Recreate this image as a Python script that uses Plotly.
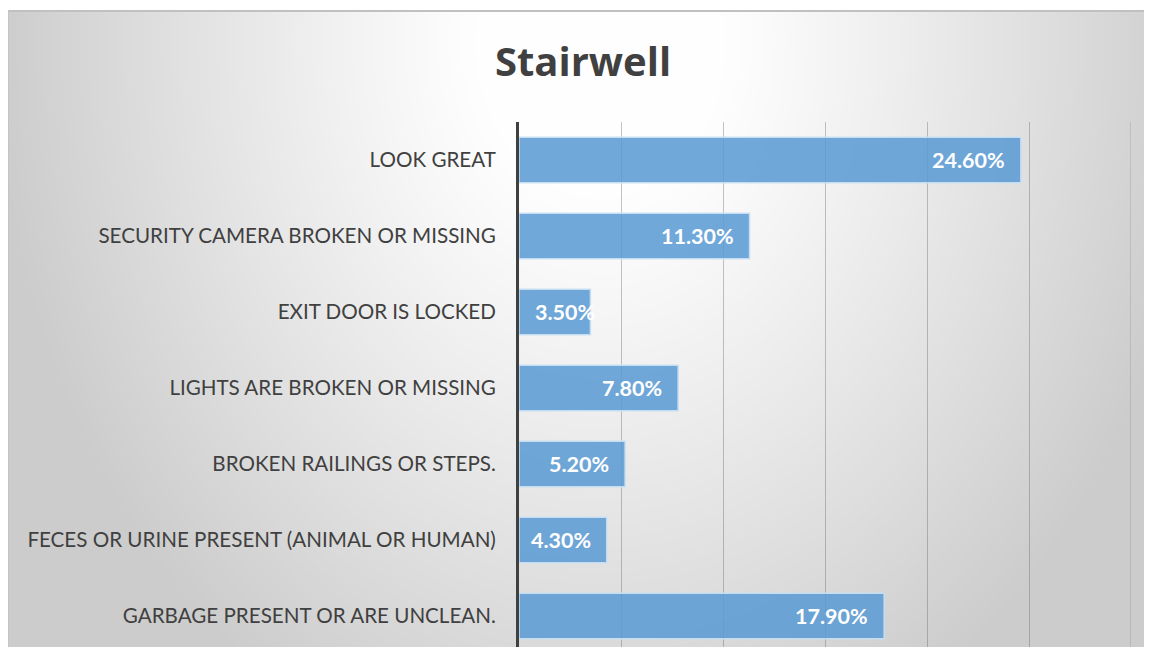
import base64
import struct
import zlib

import numpy as np
import plotly.graph_objects as go

# ---------------- data ----------------
categories = [
    "LOOK GREAT",
    "SECURITY CAMERA BROKEN OR MISSING",
    "EXIT DOOR IS LOCKED",
    "LIGHTS ARE BROKEN OR MISSING",
    "BROKEN RAILINGS OR STEPS.",
    "FECES OR URINE PRESENT (ANIMAL OR HUMAN)",
    "GARBAGE PRESENT OR ARE UNCLEAN.",
]
values = [24.6, 11.3, 3.5, 7.8, 5.2, 4.3, 17.9]
value_labels = ["24.60%", "11.30%", "3.50%", "7.80%", "5.20%", "4.30%", "17.90%"]
title_text = "Stairwell"

# ---------------- layout geometry (figure px; page has 8px body margin) ----------------
OFF = 8
W, H = 1152 - OFF, 647 - OFF
PL, PR, PT, PB = 519 - OFF, 1131 - OFF, 122 - OFF, H  # plot area in figure pixels
plot_w, plot_h = PR - PL, PB - PT
XMAX = 30
px_per_unit = plot_w / XMAX
CAT_PX = 76.0
GRID_COLOR = "rgba(100,100,100,0.38)"


# ---------------- background (radial gradient chart area) ----------------
def make_png_gray(arr):
    h, w = arr.shape
    raw = b"".join(b"\x00" + arr[i].tobytes() for i in range(h))

    def chunk(tag, data):
        c = struct.pack(">I", len(data)) + tag + data
        return c + struct.pack(">I", zlib.crc32(tag + data) & 0xFFFFFFFF)

    ihdr = struct.pack(">IIBBBBB", w, h, 8, 0, 0, 0, 0)
    return (b"\x89PNG\r\n\x1a\n" + chunk(b"IHDR", ihdr)
            + chunk(b"IDAT", zlib.compress(raw, 9)) + chunk(b"IEND", b""))


bx0, by0, bx1, by1 = 0, 10 - OFF, 1146 - OFF, H
bw, bh = bx1 - bx0, by1 - by0
yy, xx = np.mgrid[0:bh, 0:bw].astype(float)
xx_page = xx + bx0 + OFF
yy_page = yy + by0 + OFF
d = np.sqrt(((xx_page - 600) / 570.0) ** 2 + ((yy_page - 40) / 720.0) ** 2)
drop = 50 * np.clip((d - 0.22) / 0.85, 0, 1) ** 1.1
bg = np.clip(254 - drop, 0, 255).astype(np.uint8)
bg[0:2, :] = 192
bg[:, 0:1] = 196
bg[:, -1:] = 196
bg_src = "data:image/png;base64," + base64.b64encode(make_png_gray(bg)).decode()

fig = go.Figure()

fig.add_trace(go.Bar(
    x=values,
    y=categories,
    orientation="h",
    width=0.6,
    marker=dict(color="rgba(91,155,213,0.87)",
                line=dict(color="rgba(200,222,242,0.95)", width=1.5)),
    hoverinfo="skip",
))

# data labels (inside end, white bold)
lab_font = dict(family="Lato", size=21.5, color="white", weight="bold")
annotations = []
for cat, v, lab in zip(categories, values, value_labels):
    if v * px_per_unit < 80:
        annotations.append(dict(x=0, y=cat, xref="x", yref="y", text=lab,
                                showarrow=False, xanchor="left", xshift=14, font=lab_font))
    else:
        annotations.append(dict(x=v, y=cat, xref="x", yref="y", text=lab,
                                showarrow=False, xanchor="right", xshift=-14, font=lab_font))

fig.update_layout(
    width=W, height=H,
    margin=dict(l=PL, r=W - PR, t=PT, b=H - PB, pad=0),
    paper_bgcolor="white",
    plot_bgcolor="rgba(0,0,0,0)",
    showlegend=False,
    title=dict(text=title_text, x=(583 - OFF) / W, xanchor="center", xref="container",
               y=1 - (62 - OFF) / H, yanchor="middle", yref="container",
               font=dict(family="Open Sans", size=40, color="#404040", weight="bold")),
    annotations=annotations,
    images=[dict(source=bg_src, xref="paper", yref="paper",
                 x=(bx0 - PL) / plot_w, y=(PB - by0) / plot_h,
                 sizex=bw / plot_w, sizey=bh / plot_h,
                 xanchor="left", yanchor="top", sizing="stretch", layer="below")],
    shapes=[dict(type="line", xref="x", yref="paper", x0=XMAX, x1=XMAX, y0=0, y1=1,
                 line=dict(color=GRID_COLOR, width=1), layer="below")],
)

fig.update_xaxes(range=[0, XMAX], dtick=5, showticklabels=False,
                 showgrid=True, gridcolor=GRID_COLOR, gridwidth=1,
                 zeroline=False, showline=False, fixedrange=True)
cat_units = plot_h / CAT_PX
fig.update_yaxes(categoryorder="array", categoryarray=categories[::-1],
                 range=[6.5 - cat_units, 6.5], showgrid=False, zeroline=False,
                 showline=True, linecolor="#404040", linewidth=3,
                 ticks="", ticklabelstandoff=16,
                 tickfont=dict(family="Lato", size=20.6, color="#404040"),
                 fixedrange=True)

fig.write_html("out.html")
